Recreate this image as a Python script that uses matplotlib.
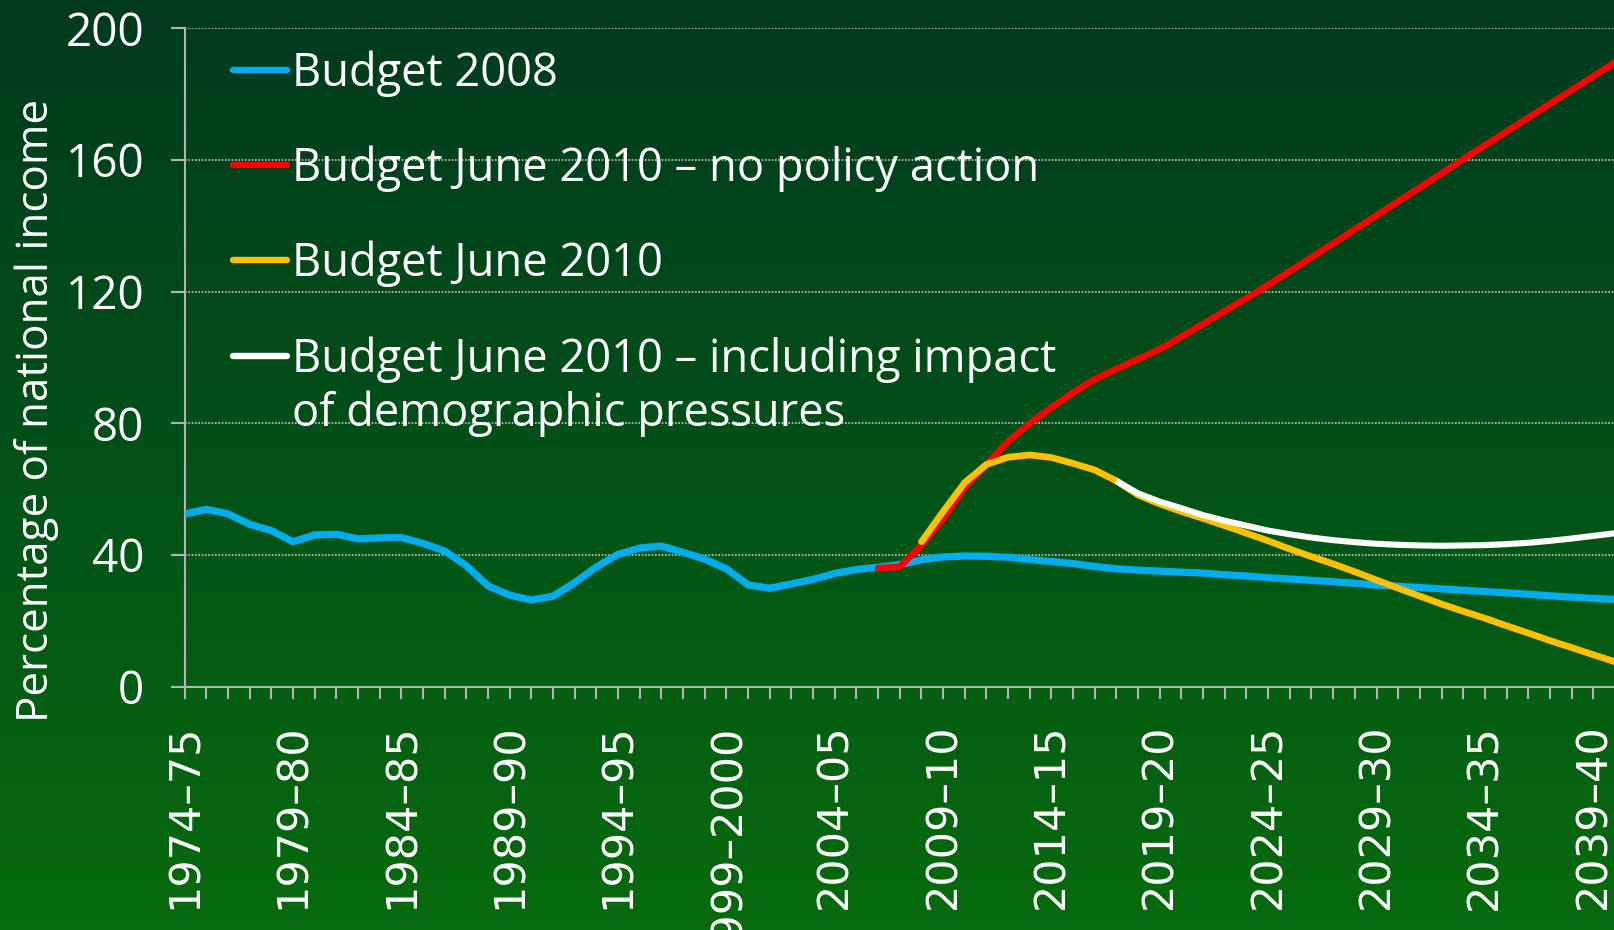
import numpy as np
import matplotlib
matplotlib.use("Agg")
import matplotlib.pyplot as plt
from matplotlib.lines import Line2D
from matplotlib.colors import LinearSegmentedColormap
from matplotlib.ticker import FixedLocator, NullFormatter

# ---------------- data ----------------
start_years = list(range(1974, 2041))           # 1974-75 ... 2040-41
tick_label_years = list(range(1974, 2040, 5))   # labelled every 5 years

def fy_label(y):
    nxt = y + 1
    return f"{y}\u2013{nxt}" if nxt == 2000 else f"{y}\u2013{str(nxt)[-2:]}"

tick_labels = [fy_label(y) for y in tick_label_years]

budget_2008 = [
    52.4, 53.9, 52.5, 49.3, 47.4, 44.0, 46.1, 46.3, 44.9, 45.2,
    45.3, 43.5, 41.2, 36.7, 30.6, 27.8, 26.3, 27.5, 31.6, 36.4,
    40.2, 42.1, 42.7, 40.8, 38.7, 35.8, 30.9, 29.9, 31.2, 32.6,
    34.4, 35.6, 36.3, 37.1, 38.5, 39.4, 39.7, 39.6, 39.3, 38.6,
    38.0, 37.4, 36.5, 35.8, 35.4, 35.1, 34.8, 34.5, 34.0, 33.6,
    33.1, 32.7, 32.3, 31.9, 31.4, 30.9, 30.5, 30.1, 29.7, 29.3,
    28.9, 28.5, 28.1, 27.6, 27.2, 26.8, 26.5]
no_policy_start = 2006
no_policy = [
    36.0, 36.4, 43.0, 51.0, 60.5, 67.5, 74.5, 80.0, 84.8, 89.3,
    93.4, 96.5, 99.5, 102.5, 106.3, 110.2, 114.1, 118.0, 122.0, 126.2,
    130.4, 134.6, 138.9, 143.1, 147.4, 151.6, 155.9, 160.2, 164.4, 168.6,
    172.8, 177.0, 181.2, 185.4, 189.6]
june_2010_start = 2008
june_2010 = [
    44.0, 53.2, 62.0, 67.5, 69.7, 70.4, 69.6, 67.8, 65.8, 62.5,
    58.2, 55.5, 53.2, 51.1, 48.9, 46.6, 44.3, 41.8, 39.5, 37.3,
    34.9, 32.4, 29.9, 27.5, 25.1, 22.9, 20.8, 18.5, 16.3, 14.0,
    11.9, 9.7, 7.6]
demog_start = 2017
demographic = [
    62.5, 58.7, 56.2, 54.2, 52.1, 50.4, 48.9, 47.4, 46.3, 45.3,
    44.5, 43.9, 43.4, 43.1, 42.9, 42.8, 42.9, 43.0, 43.3, 43.7,
    44.3, 45.0, 45.8, 46.6]

series_names = ["Budget 2008",
                "Budget June 2010 \u2013 no policy action",
                "Budget June 2010",
                "Budget June 2010 \u2013 including impact\nof demographic pressures"]
series_colors = ["#00aeef", "#ff0000", "#ffc000", "#ffffff"]

# ---------------- figure ----------------
W, H = 1614, 930
fig = plt.figure(figsize=(W / 100, H / 100), dpi=100)

# gradient background
bg = fig.add_axes([0, 0, 1, 1], zorder=0)
cmap = LinearSegmentedColormap.from_list("g", ["#003a1e", "#025118", "#086b0d"])
grad = np.linspace(0, 1, 256).reshape(-1, 1)
bg.imshow(grad, aspect="auto", cmap=cmap, extent=[0, 1, 0, 1], origin="upper")
bg.set_axis_off()

left = 184.7 / W
bottom = 1 - 686.7 / H
top = 1 - 28.2 / H
ax = fig.add_axes([left, bottom, 1.0 - left, top - bottom], zorder=1)
ax.patch.set_alpha(0)

grid_col = "#c8c8c8"
axis_col = "#b4b4b4"

def xs(start, vals):
    return [start + k for k in range(len(vals))]

ax.plot(start_years, budget_2008, color=series_colors[0], lw=5.2,
        solid_joinstyle="round", solid_capstyle="butt", zorder=3)
ax.plot(xs(no_policy_start, no_policy), no_policy, color=series_colors[1], lw=4.8,
        solid_joinstyle="round", solid_capstyle="round", zorder=4)
ax.plot(xs(june_2010_start, june_2010), june_2010, color=series_colors[2], lw=4.8,
        solid_joinstyle="round", solid_capstyle="round", zorder=5)
ax.plot(xs(demog_start, demographic), demographic, color=series_colors[3], lw=4.4,
        solid_joinstyle="round", solid_capstyle="butt", zorder=6)

ax.set_xlim(1974, 2039.96)
ax.set_ylim(0, 200)

ax.set_yticks([0, 40, 80, 120, 160, 200])
ax.xaxis.set_major_locator(FixedLocator(start_years))
ax.xaxis.set_major_formatter(NullFormatter())

for s in ["top", "right"]:
    ax.spines[s].set_visible(False)
for s in ["left", "bottom"]:
    ax.spines[s].set_color(axis_col)
    ax.spines[s].set_linewidth(1.5)

ax.grid(axis="y", color=grid_col, linestyle=(0, (1, 1)), linewidth=1.2, zorder=1)
ax.set_axisbelow(True)

ax.tick_params(axis="y", direction="out", length=10, width=1.5, color=axis_col,
               labelcolor="white", labelsize=33, pad=19)
ax.tick_params(axis="x", direction="out", length=8.8, width=1.5, color=axis_col)
for lab in ax.get_yticklabels():
    lab.set_fontfamily("Open Sans")

# x tick labels as rotated text (DejaVu)
for y, lab in zip(tick_label_years, tick_labels):
    ax.annotate(lab, xy=(y, 0), xycoords=("data", "axes fraction"),
                xytext=(0, -37), textcoords="offset pixels",
                rotation=90, ha="center", va="top", color="white",
                fontsize=31, family="DejaVu Sans", annotation_clip=False)

# y label
fig.text(37 / W, 1 - 410 / H, "Percentage of national income", rotation=90,
         ha="center", va="center", color="white", fontsize=31.6, family="Open Sans")

# legend (manual)
row_y = [70, 165, 260, 356]
hx0, hx1, tx = 233 / W, 287 / W, 292 / W
for name, col, ry in zip(series_names, series_colors, row_y):
    fig.add_artist(Line2D([hx0, hx1], [1 - ry / H, 1 - ry / H], transform=fig.transFigure,
                          color=col, lw=4.6, solid_capstyle="round", zorder=10))
    lines = name.split("\n")
    for k, ln in enumerate(lines):
        fig.text(tx, 1 - (ry + 16 + 54 * k) / H, ln, ha="left", va="baseline",
                 color="white", fontsize=32.6, family="Open Sans", zorder=10)

fig.savefig("out.png", dpi=100)
